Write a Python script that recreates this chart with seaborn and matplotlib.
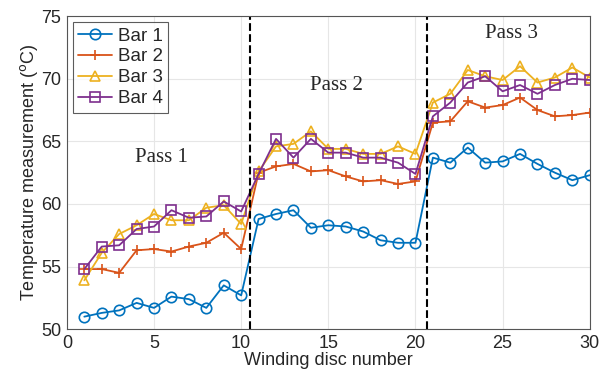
import numpy as np
import pandas as pd
import matplotlib
matplotlib.use("Agg")
import matplotlib.pyplot as plt
import seaborn as sns

# winding disc numbers and temperatures
disc = list(range(1, 31))
bar1 = [51.0, 51.3, 51.5, 52.1, 51.7, 52.6, 52.4, 51.7, 53.5, 52.7,
        58.8, 59.2, 59.5, 58.1, 58.3, 58.2, 57.8, 57.1, 56.9, 56.9,
        63.7, 63.3, 64.5, 63.3, 63.4, 64.0, 63.2, 62.5, 61.9, 62.3]
bar2 = [54.8, 54.8, 54.5, 56.3, 56.4, 56.2, 56.6, 56.9, 57.7, 56.4,
        62.5, 63.0, 63.2, 62.6, 62.7, 62.2, 61.8, 61.9, 61.6, 61.8,
        66.5, 66.6, 68.2, 67.7, 67.9, 68.5, 67.5, 67.0, 67.1, 67.3]
bar3 = [53.9, 56.1, 57.6, 58.3, 59.2, 58.7, 58.7, 59.7, 59.9, 58.4,
        62.6, 64.6, 64.8, 65.8, 64.4, 64.4, 64.0, 64.0, 64.6, 64.0,
        68.1, 68.8, 70.7, 70.2, 69.9, 71.0, 69.7, 70.1, 70.9, 70.1]
bar4 = [54.8, 56.6, 56.7, 58.0, 58.2, 59.5, 58.9, 59.0, 60.2, 59.4,
        62.4, 65.2, 63.7, 65.2, 64.1, 64.1, 63.7, 63.7, 63.3, 62.4,
        67.0, 68.1, 69.7, 70.2, 69.0, 69.5, 68.8, 69.5, 70.0, 69.9]
series_names = ["Bar 1", "Bar 2", "Bar 3", "Bar 4"]
pass_labels = ["Pass 1", "Pass 2", "Pass 3"]
pass_bounds = [10.5, 20.65]

colors = ["#0072BD", "#D95319", "#EDB120", "#7E2F8E"]
markers = ["o", "+", "^", "s"]

sns.set_style("whitegrid")
plt.rcParams["font.family"] = ["Liberation Sans", "DejaVu Sans"]

fig = plt.figure(figsize=(6.08, 3.85), dpi=100)
ax = fig.add_axes([0.110, 0.145, 0.860, 0.813])

for name, vals, c, m in zip(series_names, [bar1, bar2, bar3, bar4], colors, markers):
    sns.lineplot(x=disc, y=vals, ax=ax, color=c, marker=m, markersize=7.5,
                 markerfacecolor="none", markeredgecolor=c, markeredgewidth=1.2,
                 linewidth=1.3, label=name)

for b in pass_bounds:
    ax.axvline(b, color="black", linestyle="--", linewidth=1.5)

ax.text(5.4, 63.7, pass_labels[0], fontsize=15, family="Liberation Serif", ha="center", va="center")
ax.text(15.45, 69.5, pass_labels[1], fontsize=15, family="Liberation Serif", ha="center", va="center")
ax.text(25.5, 73.6, pass_labels[2], fontsize=15, family="Liberation Serif", ha="center", va="center")

ax.set_xlim(0, 30)
ax.set_ylim(50, 75)
ax.set_xticks(range(0, 31, 5))
ax.set_yticks(range(50, 76, 5))
ax.tick_params(labelsize=13, length=3, direction="in")
ax.tick_params(axis="x", pad=4)
ax.tick_params(axis="y", pad=4)
ax.grid(True, color="#e6e6e6", linewidth=0.8)
for s in ax.spines.values():
    s.set_color("#555555")
    s.set_linewidth(0.8)
ax.set_xlabel("Winding disc number", fontsize=13, labelpad=0)
ax.set_ylabel("Temperature measurement ($^{\\mathrm{o}}$C)", fontsize=13, labelpad=1)

leg = ax.legend(loc="upper left", fontsize=13.5, frameon=True, fancybox=False,
                borderpad=0.3, labelspacing=0.2, handlelength=1.8, handletextpad=0.3,
                borderaxespad=0.3)
leg.get_frame().set_edgecolor("#333333")
leg.get_frame().set_linewidth(0.8)

fig.savefig("out.png", dpi=100)
